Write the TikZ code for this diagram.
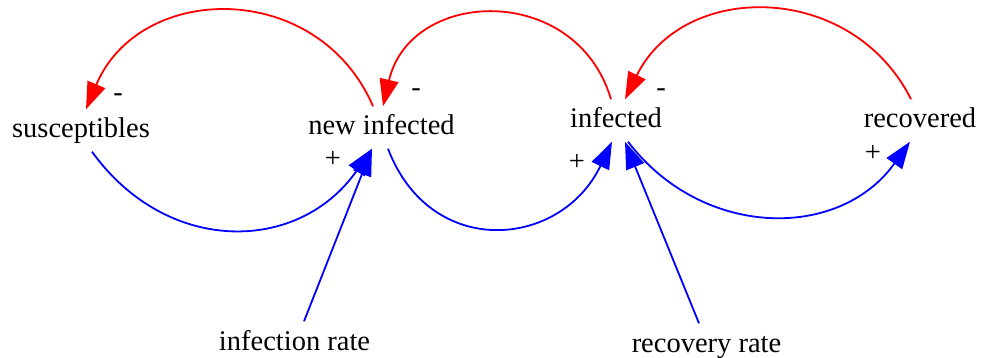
\documentclass[tikz,border=0pt]{standalone}
\usepackage{fontspec}
\setmainfont{Liberation Serif}
\usetikzlibrary{arrows.meta}
\newcommand{\varfont}{\fontsize{28.5}{34}\selectfont}
\begin{document}
\begin{tikzpicture}[x=1pt,y=-1pt,
  var/.style={inner sep=0pt, minimum height=42pt, text height=20pt, text depth=5pt, font=\varfont},
  polsign/.style={inner sep=0pt, font=\varfont},
  link/.style={line width=1.8pt, -{Triangle[length=27pt,width=19pt]}},
  neglink/.style={link, draw=red},
  poslink/.style={link, draw=blue}]
\useasboundingbox (0,0) rectangle (984,358);

% stocks and rates
\node[var] (sus) at (81,130.5)   {susceptibles};
\node[var] (ni)  at (381.5,127.5) {new infected};
\node[var] (inf) at (616,120.5)  {infected};
\node[var] (rec) at (920,120.5)  {recovered};
\node[var] (ir)  at (294.5,342.5) {infection rate};
\node[var] (rr)  at (706.5,344.5) {recovery rate};

% negative feedback arcs (upper side)
\draw[neglink] ([xshift=-8.5pt]ni.north) .. controls +(-54.8,-127.2) and +(53.7,-127.7) .. ([xshift=5pt]sus.north);
\draw[neglink] ([xshift=-5pt]inf.north) .. controls +(-34.4,-116.9) and +(27.6,-118.7) .. ([xshift=1.5pt]ni.north);
\draw[neglink] ([xshift=-9pt]rec.north) .. controls +(-59.3,-118.3) and +(58.4,-118.7) .. ([xshift=9pt]inf.north);

% positive flow arcs (lower side)
\draw[poslink] ([xshift=11pt]sus.south) .. controls +(75,104) and +(-73,105) .. ([xshift=-9.5pt]ni.south);
\draw[poslink] ([xshift=6.5pt]ni.south) .. controls +(42.4,111.3) and +(-51.2,107.1) .. ([xshift=-4pt]inf.south);
\draw[poslink] ([xshift=12pt]inf.south) .. controls +(74,97) and +(-71,99.2) .. ([xshift=-10pt]rec.south);

% rate inputs
\draw[poslink] ([xshift=9.5pt]ir.north) -- ([xshift=-9.5pt]ni.south);
\draw[poslink] ([xshift=-7.5pt]rr.north) -- ([xshift=9pt]inf.south);

% polarity signs
\node[polsign] (s1) at (118,98) {-};
\node[polsign] (s2) at (416,93) {-};
\node[polsign] (s3) at (661,93) {-};
\node[polsign] (p1) at (333,159) {+};
\node[polsign] (p2) at (577,162) {+};
\node[polsign] (p3) at (873,153) {+};
\end{tikzpicture}
\end{document}
